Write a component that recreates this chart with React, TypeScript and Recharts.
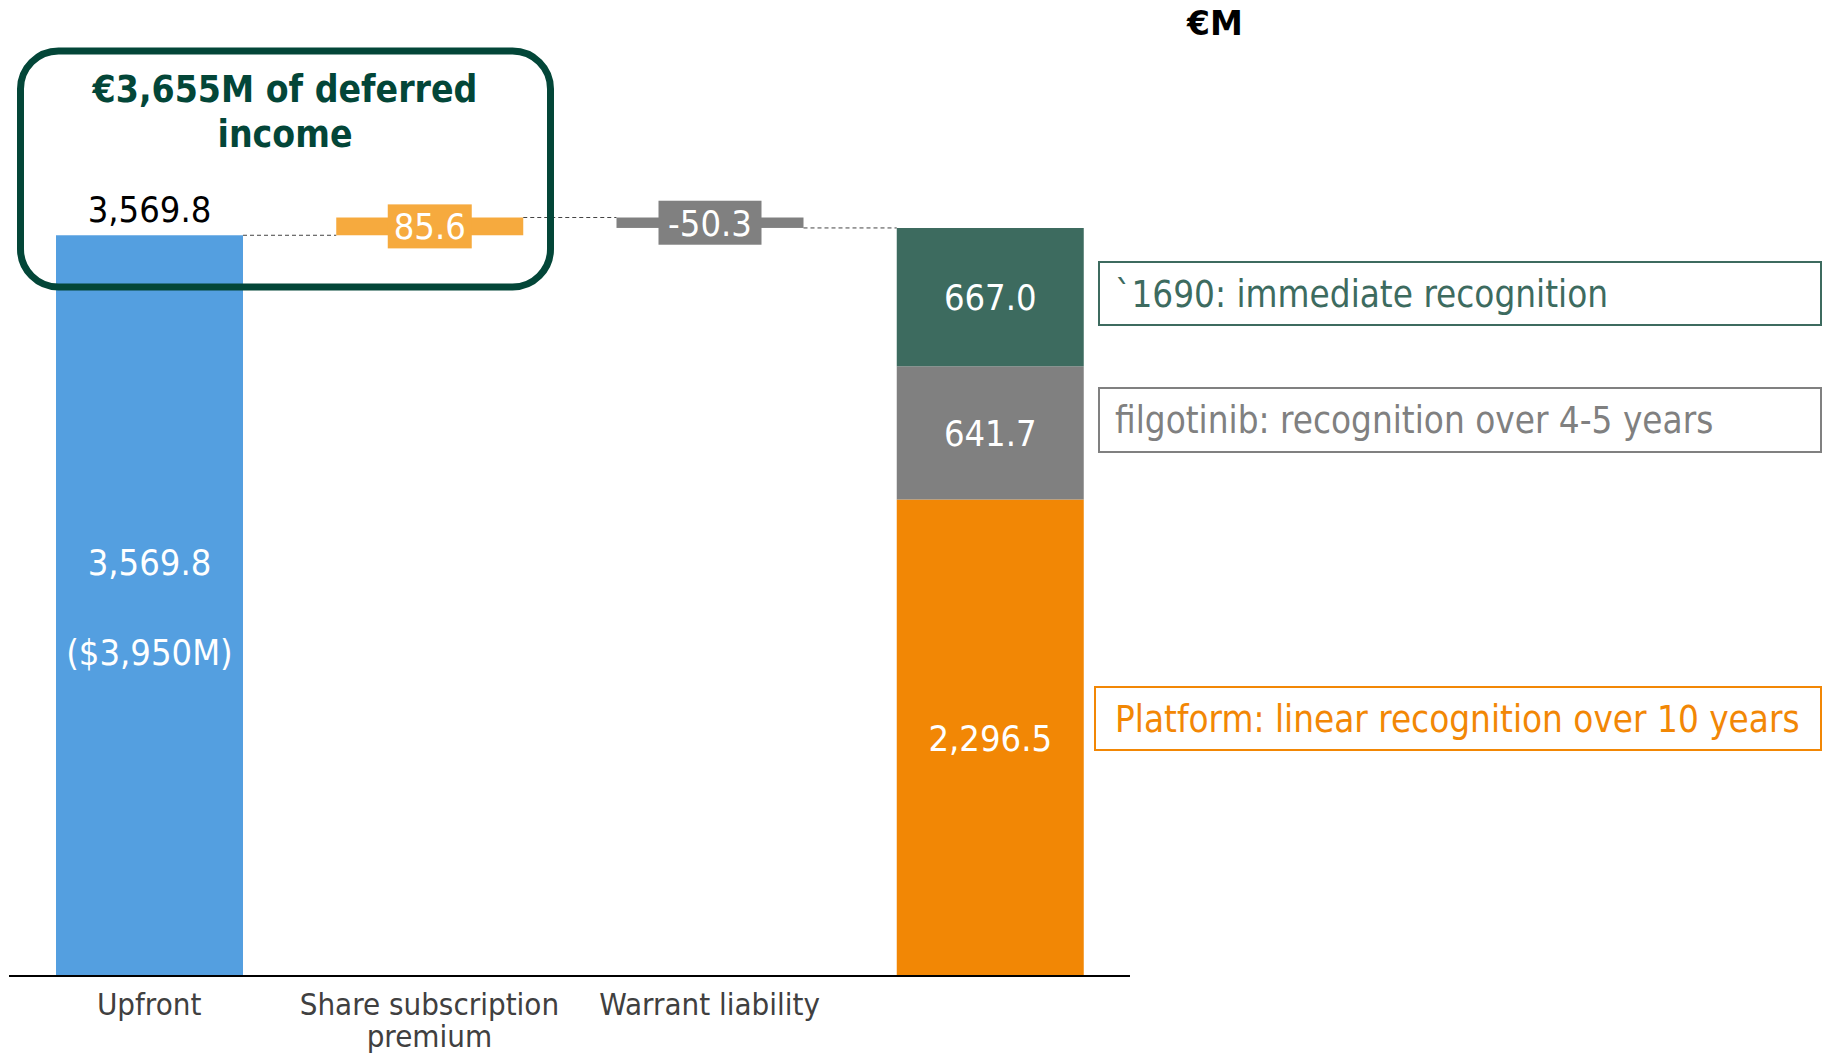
import React from 'react';
import { BarChart, Bar, XAxis, YAxis, Cell, LabelList } from 'recharts';

// ---------- data ----------
const categories = ['Upfront', 'Share subscription\npremium', 'Warrant liability', ''];
const upfrontEur = 3569.8;
const upfrontUsdLabel = '($3,950M)';
const sharePremium = 85.6;
const warrantLiability = -50.3;
const totalDeferred = 3605.2;
const platformPart = 2296.5;
const filgotinibPart = 641.7;
const immediatePart = 667.0;
const headlineLines = ['€3,655M of deferred', 'income'];
const unitLabel = '€M';
const legendLabels = [
  '`1690: immediate recognition',
  'filgotinib: recognition over 4-5 years',
  'Platform: linear recognition over 10 years',
];

// ---------- styles ----------
const FONT = "'DejaVu Sans Condensed', 'DejaVu Sans', sans-serif";
const W = 1827;
const H = 1054;
const MARGIN = { top: 146, right: 697, bottom: 0, left: 9 };
const XAXIS_H = 78;
const BAR_SIZE = 187;
const PLOT_W = W - MARGIN.left - MARGIN.right;
const GAP = PLOT_W / categories.length - BAR_SIZE;
const BLUE = '#549FE0';
const LIGHT_ORANGE = '#F6AA3E';
const GRAY = '#808080';
const DARK_GREEN = '#3D6B5F';
const ORANGE = '#F28705';
const BOX_GREEN = '#034638';
const stepColors = [BLUE, LIGHT_ORANGE, GRAY];
const VAL_FS = 36;

const fmt = (v: number) =>
  v.toLocaleString('en-US', { minimumFractionDigits: 1, maximumFractionDigits: 1 });

// ---------- build waterfall ----------
const steps = [upfrontEur, sharePremium, warrantLiability];
let running = 0;
const data = categories.map((name, i) => {
  if (i < steps.length) {
    const v = steps[i];
    const base = v >= 0 ? running : running + v;
    running += v;
    return { name, base, step: Math.abs(v), sign: v, platform: 0, filgotinib: 0, immediate: 0, connect: true };
  }
  return { name, base: 0, step: 0, sign: 0, platform: platformPart, filgotinib: filgotinibPart, immediate: immediatePart, total: totalDeferred, connect: false };
});

const StepShape = (props: any) => {
  const { x, y, width, height, index } = props;
  const d = data[index];
  if (!d || !d.connect) return null;
  const lineY = d.sign >= 0 ? y : y + height;
  return (
    <g>
      <rect x={x} y={y} width={width} height={height} fill={stepColors[index]} />
      <line x1={x + width} x2={x + width + GAP} y1={lineY} y2={lineY} stroke="#444" strokeWidth={1} strokeDasharray="4 3" />
    </g>
  );
};

const valText = (x: number, cy: number, txt: string, fill: string, key?: string) => (
  <text key={key} x={x} y={cy + VAL_FS * 0.36} textAnchor="middle" fill={fill} fontSize={VAL_FS} fontFamily={FONT} style={{ fontStretch: 'condensed' }}>
    {txt}
  </text>
);

const StepLabel = (props: any) => {
  const { x, y, width, height, index } = props;
  const d = data[index];
  if (!d || !d.connect) return null;
  const cx = x + width / 2;
  const cy = y + height / 2;
  if (index === 0) {
    return (
      <g>
        {valText(cx, y - 26, fmt(d.sign), '#000')}
        {valText(cx, cy - 44, fmt(d.sign), '#fff')}
        {valText(cx, cy + 46, upfrontUsdLabel, '#fff')}
      </g>
    );
  }
  const txt = fmt(d.sign);
  const bw = txt.length * 19 + 8;
  return (
    <g>
      <rect x={cx - bw / 2} y={cy - 22} width={bw} height={44} fill={stepColors[index]} />
      {valText(cx, cy, txt, '#fff')}
    </g>
  );
};

const SegLabel = (props: any) => {
  const { x, y, width, height, value } = props;
  if (!value) return null;
  return valText(x + width / 2, y + height / 2, fmt(value), '#fff');
};

const TotalLabel = (props: any) => {
  const { x, y, width, index } = props;
  const d: any = data[index];
  if (!d || !d.total) return null;
  return valText(x + width / 2, y - 25, fmt(d.total), '#000');
};

const Tick = (props: any) => {
  const { x, y, payload } = props;
  const lines = String(payload.value).split('\n');
  return (
    <g>
      {lines.map((l, i) => (
        <text key={i} x={x} y={y + 31 + i * 32} textAnchor="middle" fill="#404040" fontSize={31} fontFamily={FONT} style={{ fontStretch: 'condensed' }}>
          {l}
        </text>
      ))}
    </g>
  );
};

const legendBoxes = [
  { x: 1099, y: 262, w: 722, h: 63, color: DARK_GREEN },
  { x: 1099, y: 388, w: 722, h: 64, color: GRAY },
  { x: 1095, y: 687, w: 726, h: 63, color: ORANGE },
];

export default function App() {
  return (
    <div style={{ position: 'absolute', left: 0, top: 0, width: W, height: H, background: '#fff' }}>
      <BarChart width={W} height={H} data={data} margin={MARGIN} barSize={BAR_SIZE}>
        <YAxis hide domain={[0, 4000]} width={0} />
        <XAxis
          dataKey="name"
          height={XAXIS_H}
          axisLine={{ stroke: '#000', strokeWidth: 2 }}
          tickLine={false}
          tick={<Tick />}
          interval={0}
        />
        <Bar dataKey="base" stackId="a" fill="transparent" isAnimationActive={false} />
        <Bar dataKey="step" stackId="a" shape={<StepShape />} isAnimationActive={false}>
          {data.map((_, i) => (
            <Cell key={i} fill={stepColors[i] || 'transparent'} />
          ))}
          <LabelList dataKey="step" content={<StepLabel />} />
        </Bar>
        <Bar dataKey="platform" stackId="a" fill={ORANGE} isAnimationActive={false}>
          <LabelList dataKey="platform" content={<SegLabel />} />
        </Bar>
        <Bar dataKey="filgotinib" stackId="a" fill={GRAY} isAnimationActive={false}>
          <LabelList dataKey="filgotinib" content={<SegLabel />} />
        </Bar>
        <Bar dataKey="immediate" stackId="a" fill={DARK_GREEN} isAnimationActive={false}>
          <LabelList dataKey="immediate" content={<SegLabel />} />
          <LabelList dataKey="immediate" content={<TotalLabel />} />
        </Bar>
      </BarChart>
      <svg width={W} height={H} style={{ position: 'absolute', left: 0, top: 0, pointerEvents: 'none' }}>
        <rect x={20.5} y={51} width={530} height={236} rx={38} ry={38} fill="none" stroke={BOX_GREEN} strokeWidth={7} />
        {headlineLines.map((l, i) => (
          <text key={i} x={285} y={88.5 + i * 45.5 + 13} textAnchor="middle" fill={BOX_GREEN} fontWeight="bold" fontSize={37} fontFamily={FONT} style={{ fontStretch: 'condensed' }}>
            {l}
          </text>
        ))}
        <text x={1215} y={35} textAnchor="middle" fill="#000" fontWeight="bold" fontSize={33} fontFamily="'DejaVu Sans', sans-serif">
          {unitLabel}
        </text>
        {legendBoxes.map((b, i) => (
          <g key={i}>
            <rect x={b.x} y={b.y} width={b.w} height={b.h} fill="#fff" stroke={b.color} strokeWidth={2} />
            <text x={1115} y={b.y + b.h / 2 + 13} fill={b.color} fontSize={36.5} fontFamily={FONT} style={{ fontStretch: 'condensed' }}>
              {legendLabels[i]}
            </text>
          </g>
        ))}
      </svg>
    </div>
  );
}
